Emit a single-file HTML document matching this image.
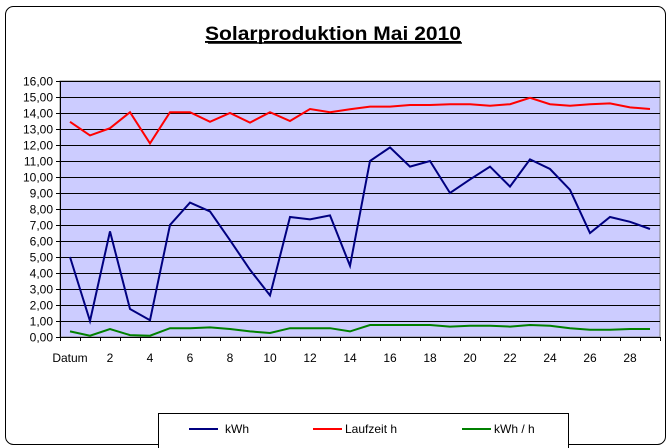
<!DOCTYPE html>
<html><head><meta charset="utf-8"><style>
html,body{margin:0;padding:0;background:#fff;}
svg{display:block;font-family:"Liberation Sans",Arial,sans-serif;}
</style></head><body>
<svg width="670" height="448" viewBox="0 0 670 448" xmlns="http://www.w3.org/2000/svg">
<rect x="5.5" y="6.5" width="660" height="438" rx="8" ry="8" fill="#fff" stroke="#000" stroke-width="1"/>
<text x="333" y="40" text-anchor="middle" font-size="19" font-weight="bold" text-decoration="underline" textLength="256" lengthAdjust="spacingAndGlyphs">Solarproduktion Mai 2010</text>
<line x1="208" y1="43" x2="462" y2="43" stroke="#000" stroke-width="1.5"/>
<rect x="60" y="81" width="600" height="256" fill="#ccccff" stroke="#808080" stroke-width="1"/>
<g stroke="#000" stroke-width="1" id="grid"></g>
<g id="axes"></g>
<polyline id="l2" fill="none" stroke="#ff0000" stroke-width="2"/>
<polyline id="l1" fill="none" stroke="#000080" stroke-width="2"/>
<polyline id="l3" fill="none" stroke="#008000" stroke-width="2"/>
<rect x="158.5" y="413.5" width="410" height="40" fill="#fff" stroke="#000"/>
<line x1="189" y1="429" x2="218" y2="429" stroke="#000080" stroke-width="2"/>
<text x="225" y="433" font-size="12">kWh</text>
<line x1="313" y1="429" x2="342" y2="429" stroke="#ff0000" stroke-width="2"/>
<text x="345" y="433" font-size="12">Laufzeit h</text>
<line x1="462" y1="429" x2="491" y2="429" stroke="#008000" stroke-width="2"/>
<text x="494" y="433" font-size="12">kWh / h</text>
</svg>
<script>
var NS="http://www.w3.org/2000/svg",svg=document.querySelector("svg");
function el(t,a,txt){var e=document.createElementNS(NS,t);for(var k in a)e.setAttribute(k,a[k]);if(txt!=null)e.textContent=txt;return e;}
var g=document.getElementById("grid"),ax=document.getElementById("axes");
for(var v=1;v<=16;v++){var y=337-16*v+0.5;g.appendChild(el("line",{x1:60,x2:660,y1:y,y2:y}));}
for(var v=0;v<=16;v++){var y=337-16*v;ax.appendChild(el("line",{x1:56,x2:60,y1:y+0.5,y2:y+0.5,stroke:"#000"}));
ax.appendChild(el("text",{x:53,y:y+4.5,"font-size":"12","text-anchor":"end"},v+",00"));}
ax.appendChild(el("line",{x1:60.5,x2:60.5,y1:81,y2:337,stroke:"#000"}));
ax.appendChild(el("line",{x1:60,x2:660,y1:337.5,y2:337.5,stroke:"#000"}));
for(var i=0;i<=30;i++){var x=60+20*i+0.5;ax.appendChild(el("line",{x1:x,x2:x,y1:337,y2:341,stroke:"#000"}));}
ax.appendChild(el("text",{x:70,y:362,"font-size":"12","text-anchor":"middle"},"Datum"));
for(var d=2;d<=28;d+=2){ax.appendChild(el("text",{x:70+20*d,y:362,"font-size":"12","text-anchor":"middle"},String(d)));}
var k=[5.0,1.0,6.6,1.75,1.05,7.0,8.4,7.85,6.05,4.2,2.6,7.5,7.35,7.6,4.45,11.0,11.85,10.65,11.0,9.0,9.85,10.65,9.4,11.1,10.5,9.2,6.5,7.5,7.2,6.75];
var l=[13.45,12.6,13.05,14.05,12.1,14.05,14.05,13.45,14.0,13.4,14.05,13.5,14.25,14.05,14.23,14.4,14.4,14.5,14.5,14.55,14.55,14.45,14.55,14.95,14.55,14.45,14.55,14.6,14.35,14.25];
var h=[0.35,0.08,0.5,0.12,0.08,0.55,0.55,0.6,0.5,0.35,0.25,0.55,0.55,0.55,0.35,0.75,0.75,0.75,0.75,0.65,0.7,0.7,0.65,0.75,0.7,0.55,0.45,0.45,0.5,0.5];
function pts(a){return a.map(function(v,i){return (70+20*i)+","+(337-16*v).toFixed(1);}).join(" ");}
document.getElementById("l1").setAttribute("points",pts(k));
document.getElementById("l2").setAttribute("points",pts(l));
document.getElementById("l3").setAttribute("points",pts(h));
</script>
</body></html>
